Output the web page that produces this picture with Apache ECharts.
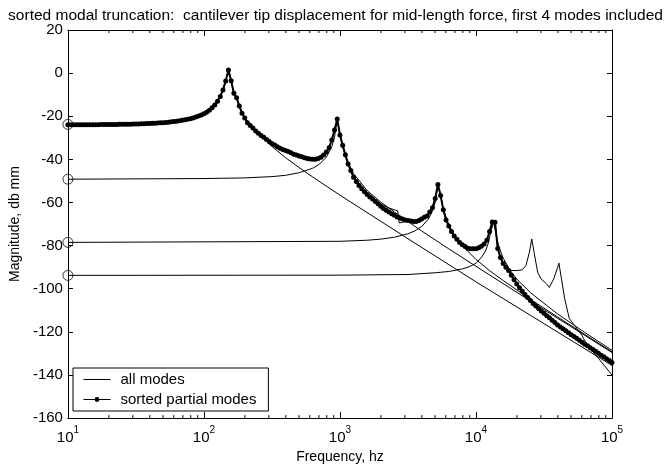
<!DOCTYPE html>
<html>
<head>
<meta charset="utf-8">
<script src="https://cdn.jsdelivr.net/npm/echarts@6/dist/echarts.min.js"></script>
<style>
html,body{margin:0;padding:0;background:#fff;}
#chart{width:671px;height:469px;}
</style>
</head>
<body>
<div id="chart"></div>
<script>
// ---- data ----
const titleText = 'sorted modal truncation:  cantilever tip displacement for mid-length force, first 4 modes included';
const xName = 'Frequency, hz';
const yName = 'Magnitude, db mm';
const legendNames = ['all modes', 'sorted partial modes'];

// sample frequencies of the sorted partial-modes curve (Hz)
const sortedFreq = [
 10,10.47,10.96,11.48,12.02,12.59,13.18,13.80,14.45,15.14,15.85,16.60,17.38,18.20,19.05,19.95,20.89,21.88,22.91,23.99,
 25.12,26.30,27.54,28.84,30.20,31.62,33.11,34.67,36.31,38.02,39.81,41.69,43.65,45.71,47.86,50.12,52.48,54.95,57.54,60.26,
 63.10,66.07,69.18,72.44,75.86,79.43,83.18,87.10,91.20,95.50,
 100,104.7,109.6,114.8,120.2,125.9,131.8,138.0,144.5,151.4,158.5,166.0,173.8,182.0,190.5,199.5,208.9,218.8,229.1,239.9,
 251.2,263.0,275.4,288.4,302.0,316.2,331.1,346.7,363.1,380.2,398.1,416.9,436.5,457.1,478.6,501.2,524.8,549.5,575.4,602.6,
 631.0,660.7,691.8,724.4,758.6,794.3,831.8,871.0,912.0,955.0,
 1000,1047,1096,1148,1202,1259,1318,1380,1445,1514,1585,1660,1738,1820,1905,1995,2089,2188,2291,2399,
 2512,2630,2754,2884,3020,3162,3311,3467,3631,3802,3981,4169,4365,4571,4786,5012,5248,5495,5754,6026,
 6310,6607,6918,7244,7586,7943,8318,8710,9120,9550,
 10000,10470,10960,11480,12020,12590,13180,13800,14450,15140,15850,16600,17380,18200,19050,19950,20890,21880,22910,23990,
 25120,26300,27540,28840,30200,31620,33110,34670,36310,38020,39810,41690,43650,45710,47860,50120,52480,54950,57540,60260,
 63100,66070,69180,72440,75860,79430,83180,87100,91200,95500,100000
];
// sorted partial modes magnitude (dB)
const sortedDb = [
 -23.96,-23.96,-23.95,-23.95,-23.94,-23.94,-23.93,-23.93,-23.92,-23.91,
 -23.90,-23.89,-23.88,-23.87,-23.86,-23.84,-23.83,-23.81,-23.79,-23.77,
 -23.75,-23.73,-23.70,-23.67,-23.64,-23.60,-23.56,-23.52,-23.47,-23.42,
 -23.36,-23.30,-23.22,-23.15,-23.06,-22.96,-22.85,-22.73,-22.60,-22.45,
 -22.29,-22.11,-21.90,-21.67,-21.41,-21.11,-20.78,-20.39,-19.94,-19.43,
 -18.83,-18.1,-17.2,-16.1,-14.8,-13.1,-10.9,-7.8,-3.6,1.4,
 -3.5,-9.3,-11.4,-15.3,-18.6,-20.8,-23.0,-24.3,-25.5,-26.8,
 -27.9,-28.9,-29.8,-30.8,-31.7,-32.6,-33.3,-34.1,-34.9,-35.4,
 -35.9,-36.3,-36.9,-37.6,-38.0,-38.4,-38.8,-39.2,-39.6,-39.8,
 -39.9,-39.9,-39.6,-39.0,-38.0,-36.6,-34.6,-31.0,-26.4,-21.3,
 -28.7,-33.4,-37.9,-42.1,-45.2,-48.3,-50.3,-52.1,-53.6,-55.0,
 -56.3,-57.4,-58.4,-59.5,-60.6,-61.7,-62.8,-63.6,-64.4,-65.2,
 -65.9,-66.7,-67.2,-67.7,-68.1,-68.4,-68.6,-68.8,-68.8,-68.4,
 -67.6,-66.9,-66.3,-64.4,-62.4,-58.2,-51.6,-56.8,-63.4,-68.1,
 -70.9,-73.5,-75.5,-77.1,-78.6,-79.6,-80.4,-81.2,-81.4,-81.5,
 -81.5,-81.0,-80.3,-79.2,-77.5,-73.4,-69.0,-69.2,-81.3,-85.5,
 -88.3,-90.0,-91.6,-93.7,-95.8,-97.8,-99.6,-101.2,-102.7,-104.1,
 -105.4,-106.8,-108.0,-109.2,-110.3,-111.4,-112.5,-113.5,-114.6,-115.7,
 -116.8,-117.7,-118.6,-119.5,-120.4,-121.3,-122.1,-123.0,-123.9,-124.8,
 -125.7,-126.5,-127.4,-128.2,-129.0,-129.9,-130.8,-131.6,-132.5,-133.3,
 -134.2
];

// all modes
const allFreq = [10,31.62,63.1,100,125.9,138.0,144.5,151.4,158.5,166.0,173.8,182.0,199.5,251.2,316.2,398.1,501.2,631.0,724.4,794.3,
 871.0,912.0,955.0,1000,1047,1096,1148,1259,1585,1995,2239,2512,2655,2730,2818,3162,3631,3981,4365,4786,
 5012,5248,5495,5754,6310,7079,7943,8710,10000,11480,12020,12590,13180,13800,14450,15140,16600,17500,20000,21900,
 23300,24700,25700,26850,28400,30000,33000,34600,37300,39900,40700,42500,44900,48500,53000,60000,65500,80000,100000];
const allDb = [-23.96,-23.6,-22.3,-18.8,-13.1,-7.8,-3.6,1.4,-3.5,-9.3,-11.4,-15.3,-20.8,-27.9,-32.6,-35.9,-38.4,-39.9,-39.0,-36.6,
 -31.0,-26.4,-21.6,-28.7,-33.4,-37.9,-42.1,-48.0,-55.6,-60.6,-62.3,-63.4,-63.8,-69.5,-68.8,-68.6,-68.8,-67.6,-66.3,-62.4,
 -58.2,-51.6,-56.8,-63.4,-70.9,-76.3,-79.6,-81.2,-81.5,-79.2,-77.5,-73.4,-69.2,-69.0,-81.3,-85.5,-90.2,-91.5,-91.6,-91.2,
 -89.2,-83.1,-76.9,-83.8,-92.3,-95.4,-97.7,-99.4,-95.4,-90.0,-88.1,-95.4,-104.6,-113.8,-117.0,-121.5,-126.0,-132.5,-140.0];

// individual sorted modes
const mode1Freq = [10,31.62,63.1,100,125.9,138.0,144.5,151.4,158.5,166.0,173.8,182.0,199.5,251.2,316.2,398.1,501.2,631.0,1000,3162,10000,100000];
const mode1Db   = [-24.0,-23.6,-22.3,-18.8,-13.1,-7.8,-3.6,1.4,-3.5,-9.3,-11.4,-15.3,-20.8,-28.3,-34.0,-39.2,-43.8,-48.2,-56.6,-76.8,-96.8,-135.6];
const mode2Freq = [10,100,199.5,316.2,398.1,501.2,631.0,707.9,794.3,871.0,912.0,955.0,1000,1047,1122,1259,1585,1995,2512,3162,3981,6310,10000,31620,100000];
const mode2Db   = [-49.2,-48.9,-48.6,-48.0,-47.4,-46.2,-44.1,-42.2,-39.0,-34.1,-29.7,-21.5,-28.5,-34.2,-40.2,-46.6,-54.5,-59.8,-64.4,-68.8,-73.2,-81.5,-89.6,-109.7,-129.6];
const mode3Freq = [10,1000,1585,1995,2512,3162,3548,3981,4467,4786,5012,5248,5495,5754,6310,7079,7943,10000,12590,15850,25120,39810,63100,100000];
const mode3Db   = [-78.5,-78.0,-77.5,-77.0,-76.1,-74.5,-73.2,-71.2,-67.7,-63.9,-60.0,-52.0,-56.5,-63.2,-70.5,-76.0,-80.1,-86.4,-91.6,-96.2,-104.9,-113.1,-121.2,-129.3];
const mode4Freq = [10,1000,3162,5012,6310,7943,8913,10000,10960,11750,12300,12880,13490,14130,14790,15850,17780,19950,25120,39810,63100,100000];
const mode4Db   = [-93.8,-93.7,-93.4,-92.6,-92.0,-90.8,-89.8,-88.2,-85.5,-82.5,-79.0,-73.5,-69.0,-75.8,-80.9,-85.8,-91.4,-95.5,-101.8,-111.7,-120.3,-128.6];

// low-frequency (static) levels of the sorted modes, marked with circles
const circleFreq = [10,10,10,10];
const circleDb = [-23.8,-49.2,-78.5,-93.8];

// axis ticks
const yTicks = {min:-160, max:20, step:20};
const xRange = {min:10, max:100000};
</script>
<script>
const FONT = 'Liberation Sans, Arial, Helvetica, sans-serif';
const zip = (a, b) => a.map((v, i) => [v, b[i]]);

// minor tick positions for log axis (2..9 in each decade)
const minorTicks = [];
for (let d = xRange.min; d < xRange.max; d *= 10) {
  for (let k = 2; k <= 9; k++) minorTicks.push(d * k);
}

const thin = (name, f, v) => ({
  name: name, type: 'line', data: zip(f, v), symbol: 'none',
  lineStyle: {color: '#000', width: 1}, itemStyle: {color: '#000'},
  z: 2, silent: true
});

const chart = echarts.init(document.getElementById('chart'), null, {renderer: 'canvas'});
chart.setOption({
  animation: false,
  backgroundColor: '#fff',
  title: {
    text: titleText, left: 'center', top: 3,
    textStyle: {fontFamily: FONT, fontSize: 15.5, fontWeight: 'normal', color: '#000'}
  },
  grid: {left: 67, right: 59, top: 30, bottom: 49, show: false},
  legend: {
    data: [
      {name: legendNames[0], itemStyle: {color: 'rgba(0,0,0,0)', borderWidth: 0, opacity: 0}, lineStyle: {width: 1, color: '#000'}},
      {name: legendNames[1], lineStyle: {width: 1, color: '#000'}}
    ],
    orient: 'vertical', left: 73, top: 368,
    itemWidth: 27, itemHeight: 6, itemGap: 3,
    padding: [3, 12, 3, 10],
    backgroundColor: '#fff', borderColor: '#000', borderWidth: 1,
    textStyle: {fontFamily: FONT, fontSize: 15, lineHeight: 17, color: '#000', padding: [0, 0, 0, 5]},
    selectedMode: false, z: 10
  },
  xAxis: [{
    type: 'log', logBase: 10, min: xRange.min, max: xRange.max,
    name: xName, nameLocation: 'middle', nameGap: 28,
    nameTextStyle: {fontFamily: FONT, fontSize: 14, color: '#000'},
    axisLine: {show: true, onZero: false, lineStyle: {color: '#000', width: 1}},
    axisTick: {show: true, inside: true, length: 6, lineStyle: {color: '#000'}},
    axisLabel: {
      margin: 7,
      formatter: function (v) { return '{b|10}{e|' + Math.round(Math.log10(v)) + '}'; },
      rich: {
        b: {fontFamily: FONT, fontSize: 15, color: '#000', verticalAlign: 'bottom', lineHeight: 20},
        e: {fontFamily: FONT, fontSize: 10, color: '#000', verticalAlign: 'top', lineHeight: 20}
      }
    },
    splitLine: {show: false}
  }, {
    type: 'log', logBase: 10, min: xRange.min, max: xRange.max, position: 'top',
    axisLine: {show: true, onZero: false, lineStyle: {color: '#000', width: 1}},
    axisTick: {show: true, inside: true, length: 6, lineStyle: {color: '#000'}},
    axisLabel: {show: false}, splitLine: {show: false}
  }],
  yAxis: [{
    type: 'value', min: yTicks.min, max: yTicks.max, interval: yTicks.step,
    name: yName, nameLocation: 'middle', nameGap: 42,
    nameTextStyle: {fontFamily: FONT, fontSize: 14, color: '#000'},
    axisLine: {show: true, onZero: false, lineStyle: {color: '#000', width: 1}},
    axisTick: {show: true, inside: true, length: 5, lineStyle: {color: '#000'}},
    axisLabel: {fontFamily: FONT, fontSize: 15, color: '#000', margin: 5},
    splitLine: {show: false}
  }, {
    type: 'value', min: yTicks.min, max: yTicks.max, interval: yTicks.step, position: 'right',
    axisLine: {show: true, onZero: false, lineStyle: {color: '#000', width: 1}},
    axisTick: {show: true, inside: true, length: 5, lineStyle: {color: '#000'}},
    axisLabel: {show: false}, splitLine: {show: false}
  }],
  series: [
    thin('mode 1', mode1Freq, mode1Db),
    thin('mode 2', mode2Freq, mode2Db),
    thin('mode 3', mode3Freq, mode3Db),
    thin('mode 4', mode4Freq, mode4Db),
    thin(legendNames[0], allFreq, allDb),
    {
      name: legendNames[1], type: 'line', data: zip(sortedFreq, sortedDb),
      symbol: 'circle', symbolSize: 5, showSymbol: true, showAllSymbol: true,
      lineStyle: {color: '#000', width: 2}, itemStyle: {color: '#000'},
      z: 3, silent: true
    },
    {
      name: 'static levels', type: 'scatter', data: zip(circleFreq, circleDb),
      symbol: 'circle', symbolSize: 10, clip: false,
      itemStyle: {color: 'rgba(0,0,0,0)', borderColor: '#000', borderWidth: 1},
      z: 4, silent: true
    },
    {
      name: 'minor ticks', type: 'custom', silent: true, clip: false, z: 1,
      data: minorTicks.map(f => [f, yTicks.min]),
      renderItem: function (params, api) {
        const f = api.value(0);
        const pb = api.coord([f, yTicks.min]);
        const pt = api.coord([f, yTicks.max]);
        return {type: 'group', children: [
          {type: 'line', shape: {x1: pb[0], y1: pb[1], x2: pb[0], y2: pb[1] - 3}, style: {stroke: '#000', lineWidth: 1}},
          {type: 'line', shape: {x1: pt[0], y1: pt[1], x2: pt[0], y2: pt[1] + 3}, style: {stroke: '#000', lineWidth: 1}}
        ]};
      }
    }
  ]
});
</script>
</body>
</html>
